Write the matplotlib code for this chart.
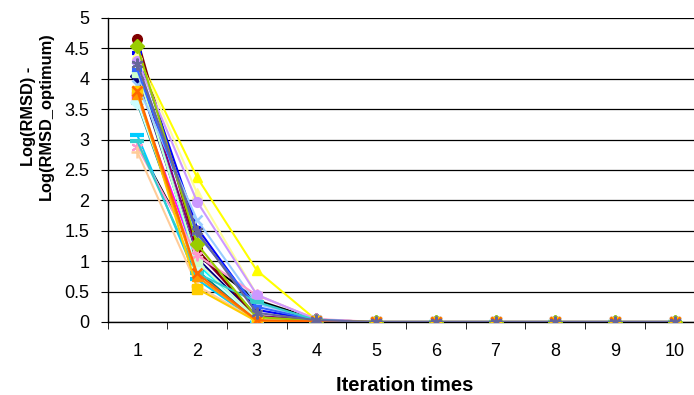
import matplotlib
matplotlib.use("Agg")
import matplotlib.pyplot as plt

plt.rcParams['font.family'] = ['Liberation Sans', 'DejaVu Sans']

iterations = [1, 2, 3, 4, 5, 6, 7, 8, 9, 10]

series_colors = ['#000080', '#FF00FF', '#FFFF00', '#00FFFF', '#800080', '#800000',
                 '#008080', '#0000FF', '#00CCFF', '#CCFFFF', '#CCFFCC', '#FFFF99',
                 '#99CCFF', '#FF99CC', '#CC99FF', '#FFCC99', '#3366FF', '#33CCCC',
                 '#99CC00', '#FFCC00', '#FF9900', '#FF6600', '#666699']
series_markers = ['D', 's', '^', 'x', 'star', 'o', '+', 'dash', 'longdash']

# values at iterations 1..4 (iterations 5..10 are 0)
s_first = [
    [4.05, 1.05, 0.08, 0.03],
    [3.70, 0.99, 0.05, 0.02],
    [4.40, 2.38, 0.85, 0.03],
    [4.20, 0.95, 0.04, 0.02],
    [4.22, 1.16, 0.10, 0.03],
    [4.65, 1.20, 0.06, 0.02],
    [3.60, 0.85, 0.03, 0.02],
    [4.43, 1.55, 0.20, 0.03],
    [3.07, 0.70, 0.02, 0.01],
    [3.62, 0.90, 0.05, 0.02],
    [4.12, 1.00, 0.05, 0.02],
    [4.40, 2.12, 0.45, 0.04],
    [3.90, 1.68, 0.30, 0.04],
    [2.88, 1.10, 0.44, 0.05],
    [4.30, 1.98, 0.45, 0.04],
    [2.80, 0.60, 0.02, 0.01],
    [4.15, 1.45, 0.25, 0.03],
    [2.97, 0.80, 0.33, 0.03],
    [4.54, 1.28, 0.08, 0.02],
    [3.80, 0.55, 0.01, 0.01],
    [3.75, 0.75, 0.02, 0.01],
    [3.80, 0.80, 0.03, 0.01],
    [4.25, 1.49, 0.15, 0.03],
]
black_series = [2.92, 1.10, 0.36, 0.04, 0, 0, 0, 0, 0, 0]
tail_zeros = [0, 0, 0, 0, 0, 0]

fig = plt.figure(figsize=(6.94, 3.95), dpi=100)
ax = fig.add_axes([107.5/694, 73/395, 597/694, 304/395])

ax.plot(iterations, black_series, color='black', lw=1.5, zorder=2)

for i, vals in enumerate(s_first):
    c = series_colors[i]
    m = series_markers[i % 9]
    y = vals + tail_zeros
    kw = dict(color=c, lw=1.5, zorder=3)
    if m == 'star':
        ax.plot(iterations, y, marker=(6, 2, 0), ms=8.5, mew=1.5, mec=c, **kw)
    elif m == 'x':
        ax.plot(iterations, y, marker='x', ms=7.5, mew=1.8, mec=c, **kw)
    elif m == '+':
        ax.plot(iterations, y, marker='+', ms=8.5, mew=1.8, mec=c, **kw)
    elif m == 'dash':
        ax.plot(iterations, y, marker='_', ms=7.5, mew=3, mec=c, **kw)
    elif m == 'longdash':
        ax.plot(iterations, y, marker='_', ms=10, mew=3, mec=c, **kw)
    else:
        ax.plot(iterations, y, marker=m, ms=7, mec=c, mfc=c, **kw)

ax.set_xlim(0.5, 10.5)
ax.set_ylim(0, 5)
ax.set_yticks([0, 0.5, 1, 1.5, 2, 2.5, 3, 3.5, 4, 4.5, 5])
ax.set_yticklabels(['0', '0.5', '1', '1.5', '2', '2.5', '3', '3.5', '4', '4.5', '5'])
ax.set_xticks(iterations)
ax.set_xticklabels([str(v) for v in iterations])
ax.set_xticks([v + 0.5 for v in range(0, 10)], minor=True)
ax.tick_params(axis='x', which='major', length=0, labelsize=13, pad=15)
ax.tick_params(axis='x', which='minor', length=5, direction='out', color='black')
ax.tick_params(axis='y', length=5, direction='out', labelsize=13, pad=8)
ax.yaxis.grid(True, color='black', lw=0.9)
ax.set_axisbelow(True)
for s in ['top', 'right']:
    ax.spines[s].set_visible(False)
for s in ['left', 'bottom']:
    ax.spines[s].set_color('black')
    ax.spines[s].set_linewidth(1.0)

ax.set_xlabel('Iteration times', fontsize=14.5, fontweight='bold')
ax.xaxis.set_label_coords(0.498, -0.21)
ax.xaxis.label.set_va('center')
ax.set_ylabel('Log(RMSD) -\nLog(RMSD_optimum)', fontsize=11.8, fontweight='bold',
              linespacing=1.25)
ax.yaxis.set_label_coords(-0.117, 0.678)
ax.yaxis.label.set_va('center')

fig.savefig('out.png', dpi=100)
